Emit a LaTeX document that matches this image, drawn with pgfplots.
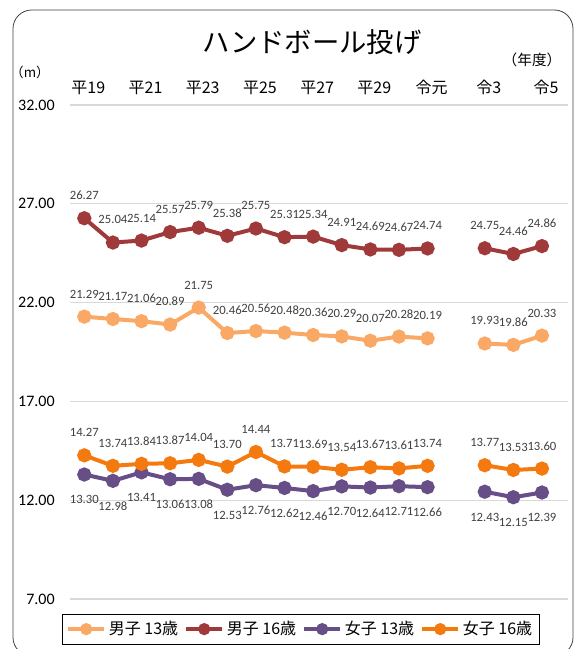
\documentclass[border=0pt]{standalone}
\usepackage{pgfplots}
\usepackage{pgfplotstable}
\pgfplotsset{compat=1.18}
\usepackage{fontspec}
\setmainfont{Carlito}
\newfontfamily\cjk{Noto Sans CJK JP}
\definecolor{m13}{HTML}{F9A965}
\definecolor{m16}{HTML}{A0393A}
\definecolor{f13}{HTML}{674E87}
\definecolor{f16}{HTML}{F47A10}
\definecolor{lbl}{HTML}{404040}
\definecolor{grd}{HTML}{D9D9D9}

\pgfplotstableread{
x m13 m16 f13 f16
0 21.29 26.27 13.30 14.27
1 21.17 25.04 12.98 13.74
2 21.06 25.14 13.41 13.84
3 20.89 25.57 13.06 13.87
4 21.75 25.79 13.08 14.04
5 20.46 25.38 12.53 13.70
6 20.56 25.75 12.76 14.44
7 20.48 25.31 12.62 13.71
8 20.36 25.34 12.46 13.69
9 20.29 24.91 12.70 13.54
10 20.07 24.69 12.64 13.67
11 20.28 24.67 12.71 13.61
12 20.19 24.74 12.66 13.74
13 nan nan nan nan
14 19.93 24.75 12.43 13.77
15 19.86 24.46 12.15 13.53
16 20.33 24.86 12.39 13.60
}\datatable

\begin{document}
\begin{tikzpicture}
\begin{scope}[x=0.75pt,y=-0.75pt]
\useasboundingbox (0,0) rectangle (574,649);
\draw[black!75, line width=0.6pt, rounded corners=14pt] (13,10) rectangle (573,656);
\node[font=\cjk\fontsize{20.5}{24}\selectfont] at (312,42) {ハンドボール投げ};
\node[font=\cjk\fontsize{10}{12}\selectfont] at (30,72) {（m）};
\node[font=\cjk\fontsize{11}{13}\selectfont] at (532,60) {（年度）};
\end{scope}
\begin{axis}[
  at={(52.5pt,-449.25pt)}, anchor=south west,
  scale only axis, width=373.5pt, height=370.5pt,
  xmin=-0.5, xmax=16.91, ymin=7, ymax=32,
  axis line style={draw=none},
  major tick length=0pt,
  ymajorgrids, grid style={grd, line width=0.8pt},
  ytick={7,12,17,22,27,32},
  /pgf/number format/assume math mode=true,
  yticklabel style={font=\fontsize{12}{14}\selectfont, xshift=-8pt, /pgf/number format/.cd, fixed, fixed zerofill, precision=2},
  xtick={0,2,4,6,8,10,12,14,16},
  xticklabels={平19,平21,平23,平25,平27,平29,令元,令3,令5},
  xticklabel pos=upper,
  xticklabel style={font=\cjk\fontsize{12}{14}\selectfont, yshift=4pt, xshift=3pt},
  unbounded coords=jump,
  every axis plot/.append style={line width=3pt, mark=*, mark size=3.8pt},
  nodes near coords={\pgfmathprintnumber[fixed,fixed zerofill,precision=2]{\pgfplotspointmeta}},
  every node near coord/.append style={font=\fontsize{9.5}{11}\selectfont, text=lbl},
  legend style={at={(axis description cs:0.463,0)}, anchor=north, yshift=-11pt,
    legend columns=4, draw=black, line width=0.6pt,
    font=\cjk\fontsize{12}{15}\selectfont, inner xsep=3pt, inner ysep=3.5pt},
  legend cell align=left,
  legend image code/.code={\draw[mark repeat=2, mark phase=2, line width=3pt, mark size=3pt] plot coordinates {(0pt,0pt) (13.5pt,0pt) (27pt,0pt)};},
  /tikz/every even column/.append style={column sep=2.5pt},
  clip=false,
]
\addplot[color=m13, nodes near coords style={anchor=south, yshift=9pt}] table[x=x,y=m13]{\datatable};
\addlegendentry{男子 13歳}
\addplot[color=m16, nodes near coords style={anchor=south, yshift=9pt}] table[x=x,y=m16]{\datatable};
\addlegendentry{男子 16歳}
\addplot[color=f13, nodes near coords style={anchor=north, yshift=-11pt}] table[x=x,y=f13]{\datatable};
\addlegendentry{女子 13歳}
\addplot[color=f16, nodes near coords style={anchor=south, yshift=9pt}] table[x=x,y=f16]{\datatable};
\addlegendentry{女子 16歳}
\end{axis}
\end{tikzpicture}
\end{document}
